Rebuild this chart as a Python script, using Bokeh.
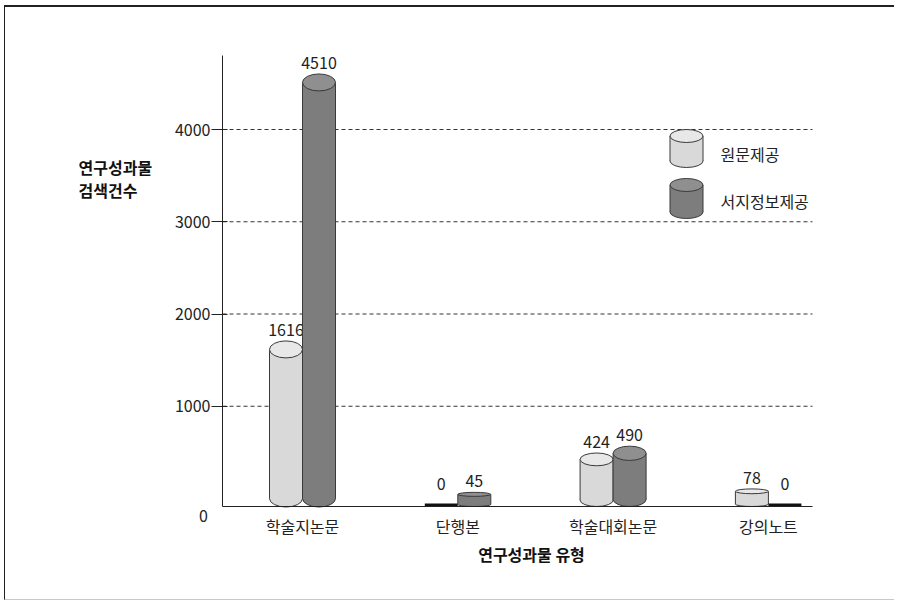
import numpy as np
from bokeh.plotting import figure
from bokeh.models import (ColumnDataSource, FixedTicker, Label, Range1d,
                          LinearAxis)
from bokeh.core.properties import value
from bokeh.embed import file_html
from bokeh.resources import INLINE

# ---------------- data ----------------
categories = ["학술지논문", "단행본", "학술대회논문", "강의노트"]
series_names = ["원문제공", "서지정보제공"]
original = [1616, 0, 424, 78]
biblio = [4510, 45, 490, 0]
y_ticks = [1000, 2000, 3000, 4000]
y_title = ["연구성과물", "검색건수"]
x_title = "연구성과물 유형"

# ---------------- layout (page pixel geometry) ----------------
OX, OY = 5, 7                  # page position of canvas origin
W, H = 890, 595
AX_L, AX_R, AX_T, AX_B = 222, 812, 55, 506   # axes box on the page
CAT0_PX, CAT_STEP = 302, 155.3               # category centre spacing
ZERO_PY, PXY = 498, 0.09225                  # y of value 0, px per unit

X0 = (OX - CAT0_PX) / CAT_STEP
X1 = (OX + W - CAT0_PX) / CAT_STEP
Y0 = -(OY + H - ZERO_PY) / PXY
Y1 = (ZERO_PY - OY) / PXY
PXX = CAT_STEP


def dx(px):
    return (px - CAT0_PX) / CAT_STEP


def dy(py):
    return (ZERO_PY - py) / PXY


BASE = dy(AX_B)
BW = 33 / PXX
FONT = value("Noto Sans CJK KR")
TXT = "#222222"
EDGE = "#3a3a3a"
LIGHT_BODY, LIGHT_TOP = "#d9d9d9", "#e8e8e8"
DARK_BODY, DARK_TOP = "#7d7d7d", "#8f8f8f"

p = figure(width=W, height=H, x_range=Range1d(X0, X1), y_range=Range1d(Y0, Y1),
           output_backend="svg", toolbar_location=None, title=None,
           x_axis_location=None, y_axis_location=None, min_border=0)
p.outline_line_color = None
p.background_fill_color = "white"
p.border_fill_color = "white"
p.xgrid.visible = False
p.ygrid.visible = False
p.styles = {"border-top": "2px solid #222", "border-left": "1px solid #222",
            "border-bottom": "1px solid #c8c8c8", "border-right": "0px none",
            "margin-left": "4px", "margin-top": "5px"}

# gridlines (dashed, only across the axes box)
p.segment(x0=[dx(AX_L)] * len(y_ticks), y0=y_ticks,
          x1=[dx(AX_R)] * len(y_ticks), y1=y_ticks,
          line_color="#333333", line_dash="4 3", line_width=1)

# axes
xa = LinearAxis(fixed_location=BASE, bounds=(dx(AX_L), dx(AX_R)),
                ticker=FixedTicker(ticks=list(range(len(categories)))),
                major_label_overrides={i: c for i, c in enumerate(categories)})
xa.major_tick_in = 0
xa.major_tick_out = 0
xa.minor_tick_line_color = None
xa.major_label_standoff = 7
xa.axis_line_color = TXT
xa.major_label_text_font = "Noto Sans CJK KR"
xa.major_label_text_font_size = "16px"
xa.major_label_text_color = TXT
p.add_layout(xa, "below")

ya = LinearAxis(fixed_location=dx(AX_L), bounds=(BASE, dy(AX_T)),
                ticker=FixedTicker(ticks=y_ticks))
ya.major_tick_in = 5
ya.major_tick_out = 11
ya.major_tick_line_color = TXT
ya.minor_tick_line_color = None
ya.major_label_standoff = 1
ya.axis_line_color = TXT
ya.major_label_text_font = "Noto Sans CJK KR"
ya.major_label_text_font_size = "16px"
ya.major_label_text_color = TXT
p.add_layout(ya, "left")


def draw_cyl(xs, yb, yt, eh, body, top):
    src = ColumnDataSource(dict(x=xs, yb=yb, yt=yt, eh=eh,
                                xl=[x - BW / 2 for x in xs],
                                xr=[x + BW / 2 for x in xs]))
    p.ellipse(x="x", y="yb", width=BW, height="eh", height_units="screen",
              fill_color=body, line_color=EDGE, line_width=1, source=src)
    p.vbar(x="x", width=BW, bottom="yb", top="yt", fill_color=body,
           line_color=None, source=src)
    p.segment(x0="xl", y0="yb", x1="xl", y1="yt", line_color=EDGE, source=src)
    p.segment(x0="xr", y0="yb", x1="xr", y1="yt", line_color=EDGE, source=src)
    p.ellipse(x="x", y="yt", width=BW, height="eh", height_units="screen",
              fill_color=top, line_color=EDGE, line_width=1, source=src)


def bars(vals, offset, body, top):
    xs, yb, yt, eh, zx = [], [], [], [], []
    lx, ly, lo, lt = [], [], [], []
    for i, v in enumerate(vals):
        x = i + offset
        hv = (v - BASE) * PXY
        e = min(17.0, 0.25 * hv + 1)
        if v == 0:
            zx.append(x)
            off = -9
        else:
            xs.append(x)
            yt.append(v)
            eh.append(e)
            yb.append(BASE + (min(e, 16) / 2) / PXY)
            off = -(e / 2 + 5)
        lx.append(x)
        ly.append(v)
        lo.append(off)
        lt.append(str(v))
    draw_cyl(xs, yb, yt, eh, body, top)
    if zx:
        yz = BASE + 1.5 / PXY
        p.segment(x0=[x - BW / 2 for x in zx], y0=[yz] * len(zx),
                  x1=[x + BW / 2 for x in zx], y1=[yz] * len(zx),
                  line_color="#111111", line_width=3)
    p.text(x=lx, y=ly, text=lt, y_offset=lo, text_align="center",
           text_baseline="bottom", text_font=FONT, text_font_size="16px",
           text_color=TXT)


bars(original, -BW / 2, LIGHT_BODY, LIGHT_TOP)
bars(biblio, BW / 2, DARK_BODY, DARK_TOP)

# legend (hand-drawn cylinders)
lgx = dx(686)
draw_cyl([lgx], [dy(160.5)], [dy(135.5)], [13], LIGHT_BODY, LIGHT_TOP)
draw_cyl([lgx], [dy(211.5)], [dy(184.5)], [13], DARK_BODY, DARK_TOP)


def label(px, py, text, align="left", bold=False, color=TXT):
    p.add_layout(Label(x=dx(px), y=dy(py), text=text, text_align=align,
                       text_baseline="middle", text_font="Noto Sans CJK KR",
                       text_font_size="16px",
                       text_font_style="bold" if bold else "normal",
                       text_color=color))


for name, py in zip(series_names, [153, 200]):
    label(720, py, name)
for t, py in zip(y_title, [166, 189]):
    label(78, py, t, bold=True, color="#111111")
label(531, 553, x_title, align="center", bold=True, color="#111111")
label(203, 515, "0", align="center")

open("out.html", "w").write(file_html(p, INLINE))
